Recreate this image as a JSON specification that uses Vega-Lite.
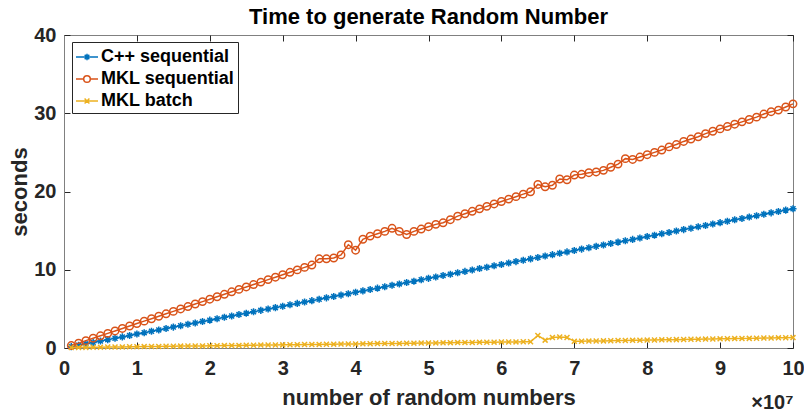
{
  "$schema": "https://vega.github.io/schema/vega-lite/v6.json",
  "autosize": "none",
  "width": 729,
  "height": 313,
  "padding": {"left": 64, "top": 35, "right": 11, "bottom": 65},
  "background": "white",
  "config": {
    "font": "Liberation Sans",
    "view": {"stroke": "#808080", "strokeWidth": 1},
    "axis": {"grid": false, "domainColor": "#808080", "tickColor": "#262626", "labelColor": "#262626", "titleColor": "#262626", "labelFont": "Liberation Sans", "titleFont": "Liberation Sans", "labelFlush": false}
  },
  "title": {"text": "Time to generate Random Number", "fontSize": 22, "fontWeight": "bold", "color": "#000000", "anchor": "middle", "offset": -4},
  "data": {"values": [
    {"x":0.1,"C++ sequential":0.18,"MKL sequential":0.31,"MKL batch":0.06},
    {"x":0.2,"C++ sequential":0.36,"MKL sequential":0.62,"MKL batch":0.07},
    {"x":0.3,"C++ sequential":0.53,"MKL sequential":0.94,"MKL batch":0.08},
    {"x":0.4,"C++ sequential":0.71,"MKL sequential":1.25,"MKL batch":0.10},
    {"x":0.5,"C++ sequential":0.89,"MKL sequential":1.56,"MKL batch":0.11},
    {"x":0.6,"C++ sequential":1.07,"MKL sequential":1.87,"MKL batch":0.12},
    {"x":0.7,"C++ sequential":1.25,"MKL sequential":2.18,"MKL batch":0.13},
    {"x":0.8,"C++ sequential":1.42,"MKL sequential":2.50,"MKL batch":0.14},
    {"x":0.9,"C++ sequential":1.60,"MKL sequential":2.81,"MKL batch":0.16},
    {"x":1.0,"C++ sequential":1.78,"MKL sequential":3.12,"MKL batch":0.17},
    {"x":1.1,"C++ sequential":1.96,"MKL sequential":3.43,"MKL batch":0.18},
    {"x":1.2,"C++ sequential":2.14,"MKL sequential":3.74,"MKL batch":0.19},
    {"x":1.3,"C++ sequential":2.31,"MKL sequential":4.06,"MKL batch":0.20},
    {"x":1.4,"C++ sequential":2.49,"MKL sequential":4.37,"MKL batch":0.22},
    {"x":1.5,"C++ sequential":2.67,"MKL sequential":4.68,"MKL batch":0.23},
    {"x":1.6,"C++ sequential":2.85,"MKL sequential":4.99,"MKL batch":0.24},
    {"x":1.7,"C++ sequential":3.03,"MKL sequential":5.30,"MKL batch":0.25},
    {"x":1.8,"C++ sequential":3.20,"MKL sequential":5.62,"MKL batch":0.26},
    {"x":1.9,"C++ sequential":3.38,"MKL sequential":5.93,"MKL batch":0.27},
    {"x":2.0,"C++ sequential":3.56,"MKL sequential":6.24,"MKL batch":0.29},
    {"x":2.1,"C++ sequential":3.74,"MKL sequential":6.55,"MKL batch":0.30},
    {"x":2.2,"C++ sequential":3.92,"MKL sequential":6.86,"MKL batch":0.31},
    {"x":2.3,"C++ sequential":4.09,"MKL sequential":7.18,"MKL batch":0.32},
    {"x":2.4,"C++ sequential":4.27,"MKL sequential":7.49,"MKL batch":0.33},
    {"x":2.5,"C++ sequential":4.45,"MKL sequential":7.80,"MKL batch":0.35},
    {"x":2.6,"C++ sequential":4.63,"MKL sequential":8.11,"MKL batch":0.36},
    {"x":2.7,"C++ sequential":4.81,"MKL sequential":8.42,"MKL batch":0.37},
    {"x":2.8,"C++ sequential":4.98,"MKL sequential":8.74,"MKL batch":0.38},
    {"x":2.9,"C++ sequential":5.16,"MKL sequential":9.05,"MKL batch":0.39},
    {"x":3.0,"C++ sequential":5.34,"MKL sequential":9.36,"MKL batch":0.40},
    {"x":3.1,"C++ sequential":5.52,"MKL sequential":9.67,"MKL batch":0.42},
    {"x":3.2,"C++ sequential":5.70,"MKL sequential":9.98,"MKL batch":0.43},
    {"x":3.3,"C++ sequential":5.87,"MKL sequential":10.3,"MKL batch":0.44},
    {"x":3.4,"C++ sequential":6.05,"MKL sequential":10.6,"MKL batch":0.45},
    {"x":3.5,"C++ sequential":6.23,"MKL sequential":11.4,"MKL batch":0.46},
    {"x":3.6,"C++ sequential":6.41,"MKL sequential":11.4,"MKL batch":0.48},
    {"x":3.7,"C++ sequential":6.59,"MKL sequential":11.5,"MKL batch":0.49},
    {"x":3.8,"C++ sequential":6.76,"MKL sequential":11.9,"MKL batch":0.50},
    {"x":3.9,"C++ sequential":6.94,"MKL sequential":13.2,"MKL batch":0.51},
    {"x":4.0,"C++ sequential":7.12,"MKL sequential":12.5,"MKL batch":0.52},
    {"x":4.1,"C++ sequential":7.30,"MKL sequential":13.9,"MKL batch":0.53},
    {"x":4.2,"C++ sequential":7.48,"MKL sequential":14.3,"MKL batch":0.55},
    {"x":4.3,"C++ sequential":7.65,"MKL sequential":14.6,"MKL batch":0.56},
    {"x":4.4,"C++ sequential":7.83,"MKL sequential":14.9,"MKL batch":0.57},
    {"x":4.5,"C++ sequential":8.01,"MKL sequential":15.3,"MKL batch":0.58},
    {"x":4.6,"C++ sequential":8.19,"MKL sequential":14.9,"MKL batch":0.59},
    {"x":4.7,"C++ sequential":8.37,"MKL sequential":14.5,"MKL batch":0.60},
    {"x":4.8,"C++ sequential":8.54,"MKL sequential":14.9,"MKL batch":0.62},
    {"x":4.9,"C++ sequential":8.72,"MKL sequential":15.2,"MKL batch":0.63},
    {"x":5.0,"C++ sequential":8.90,"MKL sequential":15.5,"MKL batch":0.64},
    {"x":5.1,"C++ sequential":9.08,"MKL sequential":15.8,"MKL batch":0.65},
    {"x":5.2,"C++ sequential":9.26,"MKL sequential":16.0,"MKL batch":0.66},
    {"x":5.3,"C++ sequential":9.43,"MKL sequential":16.4,"MKL batch":0.68},
    {"x":5.4,"C++ sequential":9.61,"MKL sequential":16.85,"MKL batch":0.69},
    {"x":5.5,"C++ sequential":9.79,"MKL sequential":17.16,"MKL batch":0.70},
    {"x":5.6,"C++ sequential":9.97,"MKL sequential":17.47,"MKL batch":0.71},
    {"x":5.7,"C++ sequential":10.15,"MKL sequential":17.78,"MKL batch":0.72},
    {"x":5.8,"C++ sequential":10.32,"MKL sequential":18.10,"MKL batch":0.73},
    {"x":5.9,"C++ sequential":10.50,"MKL sequential":18.41,"MKL batch":0.75},
    {"x":6.0,"C++ sequential":10.68,"MKL sequential":18.72,"MKL batch":0.76},
    {"x":6.1,"C++ sequential":10.86,"MKL sequential":19.03,"MKL batch":0.77},
    {"x":6.2,"C++ sequential":11.04,"MKL sequential":19.34,"MKL batch":0.78},
    {"x":6.3,"C++ sequential":11.21,"MKL sequential":19.66,"MKL batch":0.79},
    {"x":6.4,"C++ sequential":11.39,"MKL sequential":19.97,"MKL batch":0.80},
    {"x":6.5,"C++ sequential":11.57,"MKL sequential":20.9,"MKL batch":1.6},
    {"x":6.6,"C++ sequential":11.75,"MKL sequential":20.6,"MKL batch":1.0},
    {"x":6.7,"C++ sequential":11.93,"MKL sequential":20.8,"MKL batch":1.35},
    {"x":6.8,"C++ sequential":12.10,"MKL sequential":21.6,"MKL batch":1.4},
    {"x":6.9,"C++ sequential":12.28,"MKL sequential":21.5,"MKL batch":1.35},
    {"x":7.0,"C++ sequential":12.46,"MKL sequential":22.1,"MKL batch":0.85},
    {"x":7.1,"C++ sequential":12.64,"MKL sequential":22.2,"MKL batch":0.87},
    {"x":7.2,"C++ sequential":12.82,"MKL sequential":22.4,"MKL batch":0.88},
    {"x":7.3,"C++ sequential":12.99,"MKL sequential":22.5,"MKL batch":0.90},
    {"x":7.4,"C++ sequential":13.17,"MKL sequential":22.7,"MKL batch":0.91},
    {"x":7.5,"C++ sequential":13.35,"MKL sequential":23.1,"MKL batch":0.93},
    {"x":7.6,"C++ sequential":13.53,"MKL sequential":23.5,"MKL batch":0.95},
    {"x":7.7,"C++ sequential":13.71,"MKL sequential":24.2,"MKL batch":0.96},
    {"x":7.8,"C++ sequential":13.88,"MKL sequential":24.1,"MKL batch":0.98},
    {"x":7.9,"C++ sequential":14.06,"MKL sequential":24.4,"MKL batch":0.99},
    {"x":8.0,"C++ sequential":14.24,"MKL sequential":24.7,"MKL batch":1.01},
    {"x":8.1,"C++ sequential":14.42,"MKL sequential":25.0,"MKL batch":1.03},
    {"x":8.2,"C++ sequential":14.60,"MKL sequential":25.3,"MKL batch":1.04},
    {"x":8.3,"C++ sequential":14.77,"MKL sequential":25.7,"MKL batch":1.06},
    {"x":8.4,"C++ sequential":14.95,"MKL sequential":26.0,"MKL batch":1.07},
    {"x":8.5,"C++ sequential":15.13,"MKL sequential":26.4,"MKL batch":1.09},
    {"x":8.6,"C++ sequential":15.31,"MKL sequential":26.7,"MKL batch":1.11},
    {"x":8.7,"C++ sequential":15.49,"MKL sequential":27.0,"MKL batch":1.12},
    {"x":8.8,"C++ sequential":15.66,"MKL sequential":27.4,"MKL batch":1.14},
    {"x":8.9,"C++ sequential":15.84,"MKL sequential":27.7,"MKL batch":1.15},
    {"x":9.0,"C++ sequential":16.02,"MKL sequential":28.0,"MKL batch":1.17},
    {"x":9.1,"C++ sequential":16.20,"MKL sequential":28.3,"MKL batch":1.19},
    {"x":9.2,"C++ sequential":16.38,"MKL sequential":28.6,"MKL batch":1.20},
    {"x":9.3,"C++ sequential":16.55,"MKL sequential":28.9,"MKL batch":1.22},
    {"x":9.4,"C++ sequential":16.73,"MKL sequential":29.2,"MKL batch":1.23},
    {"x":9.5,"C++ sequential":16.91,"MKL sequential":29.5,"MKL batch":1.25},
    {"x":9.6,"C++ sequential":17.09,"MKL sequential":29.9,"MKL batch":1.27},
    {"x":9.7,"C++ sequential":17.27,"MKL sequential":30.2,"MKL batch":1.28},
    {"x":9.8,"C++ sequential":17.44,"MKL sequential":30.4,"MKL batch":1.30},
    {"x":9.9,"C++ sequential":17.62,"MKL sequential":30.8,"MKL batch":1.31},
    {"x":10.0,"C++ sequential":17.80,"MKL sequential":31.2,"MKL batch":1.33}
  ]},
  "transform": [{"fold": ["C++ sequential", "MKL sequential", "MKL batch"], "as": ["series", "seconds"]}],
  "layer": [
    {
      "transform": [{"filter": "datum.series === 'C++ sequential'"}],
      "mark": {"type": "line", "color": "#0072BD", "strokeWidth": 1.5, "point": {"shape": "M-1,0L1,0M0,-1L0,1M-0.7,-0.7L0.7,0.7M-0.7,0.7L0.7,-0.7", "filled": false, "color": "#0072BD", "size": 50, "strokeWidth": 1.5}},
      "encoding": {
        "x": {"field": "x", "type": "quantitative", "scale": {"domain": [0, 10], "nice": false, "zero": false},
              "axis": {"orient": "bottom", "values": [0,1,2,3,4,5,6,7,8,9,10], "format": "d", "title": "number of random numbers", "titleFontSize": 22, "titleFontWeight": "bold", "labelFontSize": 20, "labelFontWeight": "bold", "tickSize": -6, "labelPadding": 16, "titlePadding": 9}},
        "y": {"field": "seconds", "type": "quantitative", "scale": {"domain": [0, 40], "nice": false},
              "axis": {"orient": "left", "values": [0,10,20,30,40], "title": "seconds", "titleFontSize": 22, "titleFontWeight": "bold", "labelFontSize": 20, "labelFontWeight": "bold", "tickSize": -6, "labelPadding": 14, "titlePadding": 2}}
      }
    },
    {
      "transform": [{"filter": "datum.series === 'MKL sequential'"}],
      "mark": {"type": "line", "color": "#D95319", "strokeWidth": 1.5, "point": {"shape": "circle", "filled": false, "color": "#D95319", "size": 55, "strokeWidth": 1.5}},
      "encoding": {
        "x": {"field": "x", "type": "quantitative",
              "axis": {"orient": "bottom", "labels": false, "ticks": false, "domain": false, "title": "×10⁷", "titleAnchor": "end", "titleAlign": "right", "titleFontSize": 20, "titleFontWeight": "bold", "titlePadding": 44}},
        "y": {"field": "seconds", "type": "quantitative", "axis": null}
      }
    },
    {
      "transform": [{"filter": "datum.series === 'MKL batch'"}],
      "mark": {"type": "line", "color": "#EDB120", "strokeWidth": 1.5, "point": {"shape": "M-0.7,-0.7L0.7,0.7M-0.7,0.7L0.7,-0.7", "filled": false, "color": "#EDB120", "size": 50, "strokeWidth": 1.5}},
      "encoding": {
        "x": {"field": "x", "type": "quantitative", "axis": null},
        "y": {"field": "seconds", "type": "quantitative", "axis": null}
      }
    },
    {
      "mark": {"type": "point", "opacity": 0, "filled": false, "strokeWidth": 1.5},
      "encoding": {
        "x": {"field": "x", "type": "quantitative",
              "axis": {"orient": "top", "labels": false, "domain": false, "title": null, "tickSize": -6, "values": [0,1,2,3,4,5,6,7,8,9,10]}},
        "y": {"field": "seconds", "type": "quantitative",
              "axis": {"orient": "right", "labels": false, "domain": false, "title": null, "tickSize": -6, "values": [0,10,20,30,40]}},
        "color": {"field": "series", "type": "nominal",
                  "scale": {"domain": ["C++ sequential", "MKL sequential", "MKL batch"], "range": ["#0072BD", "#D95319", "#EDB120"]},
                  "legend": {"title": null, "orient": "none", "legendX": 8, "legendY": 7, "padding": 3, "rowPadding": 1, "symbolSize": 484, "symbolStrokeWidth": 1.5, "labelFontSize": 18, "labelFontWeight": "bold", "labelColor": "#000000", "labelOffset": 2, "labelFont": "Liberation Sans", "strokeColor": "#262626", "fillColor": "white"}},
        "shape": {"field": "series", "type": "nominal",
                  "scale": {"domain": ["C++ sequential", "MKL sequential", "MKL batch"], "range": ["M-1,0L1,0M0,-0.3L0,0.3M-0.21,-0.21L0.21,0.21M-0.21,0.21L0.21,-0.21", "M-1,0L-0.3,0M0.3,0L1,0M0.3,0A0.3,0.3 0 1,1 -0.3,0A0.3,0.3 0 1,1 0.3,0", "M-1,0L1,0M-0.22,-0.22L0.22,0.22M-0.22,0.22L0.22,-0.22"]},
                  "legend": {"title": null, "orient": "none", "legendX": 8, "legendY": 7, "padding": 3, "rowPadding": 1, "symbolSize": 484, "symbolStrokeWidth": 1.5, "labelFontSize": 18, "labelFontWeight": "bold", "labelColor": "#000000", "labelOffset": 2, "labelFont": "Liberation Sans", "strokeColor": "#262626", "fillColor": "white"}}
      }
    }
  ],
  "resolve": {"axis": {"x": "independent", "y": "independent"}}
}
